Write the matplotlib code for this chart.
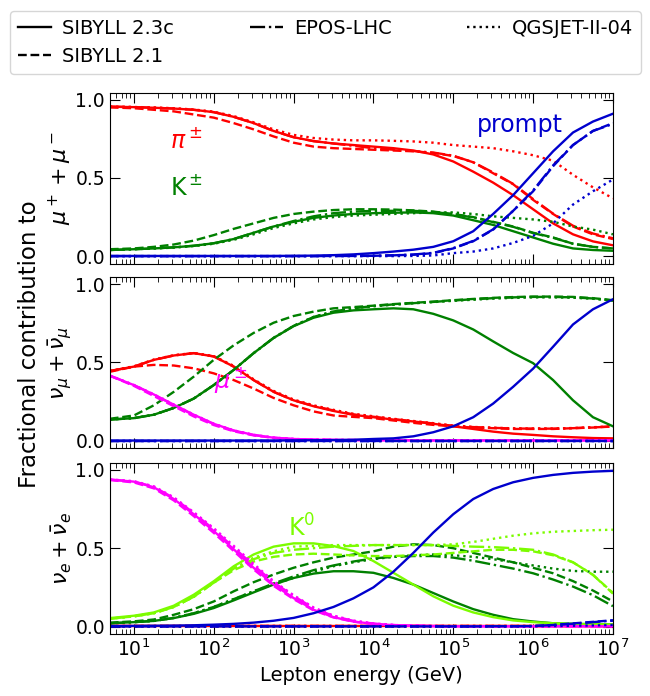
import matplotlib
matplotlib.use("Agg")
import matplotlib.pyplot as plt
from matplotlib.lines import Line2D

# ---------------- data ----------------
energy = [5, 10, 17.8, 31.6, 56.2, 100, 178, 316, 562, 1000, 1780, 3160, 5620,
          1e4, 1.78e4, 3.16e4, 5.62e4, 1e5, 1.78e5, 3.16e5, 5.62e5, 1e6,
          1.78e6, 3.16e6, 5.62e6, 1e7]
x_ticks = [1e1, 1e2, 1e3, 1e4, 1e5, 1e6, 1e7]

models = ["SIBYLL 2.3c", "SIBYLL 2.1", "EPOS-LHC", "QGSJET-II-04"]
model_styles = ["-", "--", "-.", ":"]

# --- mu+ + mu- ---
mu_pi_sib23 = [0.955, 0.952, 0.948, 0.943, 0.935, 0.92, 0.89, 0.85, 0.80, 0.76, 0.735, 0.72, 0.71,
               0.70, 0.69, 0.675, 0.65, 0.605, 0.54, 0.47, 0.39, 0.30, 0.21, 0.14, 0.095, 0.07]
mu_pi_sib21 = [0.95, 0.945, 0.935, 0.925, 0.905, 0.885, 0.85, 0.81, 0.765, 0.725, 0.70, 0.69, 0.685,
               0.68, 0.675, 0.67, 0.66, 0.64, 0.60, 0.53, 0.46, 0.36, 0.27, 0.19, 0.14, 0.11]
mu_pi_epos = [0.955, 0.952, 0.948, 0.943, 0.935, 0.92, 0.89, 0.85, 0.80, 0.76, 0.735, 0.72, 0.705,
              0.69, 0.68, 0.672, 0.662, 0.642, 0.60, 0.535, 0.462, 0.365, 0.272, 0.195, 0.145, 0.115]
mu_pi_qgs = [0.956, 0.953, 0.95, 0.945, 0.937, 0.923, 0.895, 0.855, 0.81, 0.775, 0.755, 0.745, 0.74,
             0.74, 0.737, 0.733, 0.725, 0.71, 0.70, 0.69, 0.67, 0.645, 0.61, 0.52, 0.44, 0.37]

mu_k_sib23 = [0.04, 0.045, 0.05, 0.057, 0.067, 0.083, 0.11, 0.15, 0.19, 0.22, 0.245, 0.26, 0.27,
              0.275, 0.278, 0.28, 0.275, 0.26, 0.23, 0.20, 0.16, 0.12, 0.08, 0.05, 0.04, 0.035]
mu_k_sib21 = [0.045, 0.05, 0.06, 0.075, 0.10, 0.135, 0.175, 0.21, 0.245, 0.27, 0.285, 0.295, 0.30,
              0.30, 0.298, 0.293, 0.285, 0.27, 0.25, 0.22, 0.19, 0.15, 0.12, 0.08, 0.06, 0.05]
mu_k_epos = [0.04, 0.045, 0.05, 0.057, 0.067, 0.083, 0.11, 0.15, 0.19, 0.225, 0.255, 0.275, 0.285,
             0.29, 0.29, 0.29, 0.283, 0.268, 0.248, 0.218, 0.188, 0.148, 0.118, 0.08, 0.06, 0.05]
mu_k_qgs = [0.04, 0.045, 0.05, 0.055, 0.065, 0.08, 0.105, 0.14, 0.18, 0.21, 0.235, 0.25, 0.26,
            0.265, 0.27, 0.275, 0.28, 0.28, 0.27, 0.255, 0.245, 0.235, 0.22, 0.19, 0.17, 0.14]

mu_pr_sib23 = [0.002, 0.002, 0.002, 0.002, 0.002, 0.002, 0.002, 0.002, 0.002, 0.003, 0.004, 0.007, 0.012,
               0.02, 0.03, 0.042, 0.06, 0.096, 0.16, 0.27, 0.39, 0.53, 0.67, 0.79, 0.86, 0.91]
mu_pr_sib21 = [0.001, 0.001, 0.001, 0.001, 0.001, 0.001, 0.001, 0.001, 0.001, 0.001, 0.001, 0.002, 0.002,
               0.003, 0.006, 0.01, 0.02, 0.05, 0.096, 0.17, 0.29, 0.415, 0.575, 0.71, 0.80, 0.85]
mu_pr_epos = [0.001, 0.001, 0.001, 0.001, 0.001, 0.001, 0.001, 0.001, 0.001, 0.001, 0.001, 0.002, 0.002,
              0.003, 0.006, 0.011, 0.022, 0.052, 0.098, 0.172, 0.29, 0.42, 0.58, 0.71, 0.80, 0.845]
mu_pr_qgs = [0.001, 0.001, 0.001, 0.001, 0.001, 0.001, 0.001, 0.001, 0.001, 0.001, 0.001, 0.001, 0.001,
             0.001, 0.001, 0.002, 0.005, 0.02, 0.03, 0.05, 0.085, 0.13, 0.21, 0.33, 0.415, 0.49]

# --- nu_mu + anti nu_mu ---
nm_pi_sib23 = [0.445, 0.473, 0.516, 0.544, 0.559, 0.538, 0.473, 0.387, 0.312, 0.258, 0.22, 0.19, 0.165,
               0.15, 0.135, 0.123, 0.108, 0.092, 0.075, 0.058, 0.045, 0.037, 0.028, 0.022, 0.017, 0.015]
nm_pi_sib21 = [0.44, 0.473, 0.484, 0.48, 0.462, 0.43, 0.387, 0.333, 0.273, 0.226, 0.187, 0.161, 0.152,
               0.144, 0.129, 0.114, 0.101, 0.092, 0.084, 0.08, 0.075, 0.075, 0.075, 0.08, 0.084, 0.092]
nm_pi_epos = [0.445, 0.473, 0.516, 0.544, 0.559, 0.538, 0.473, 0.387, 0.312, 0.258, 0.222, 0.193, 0.168,
              0.153, 0.138, 0.124, 0.11, 0.095, 0.087, 0.082, 0.078, 0.077, 0.077, 0.08, 0.085, 0.09]
nm_pi_qgs = [0.445, 0.475, 0.518, 0.546, 0.56, 0.54, 0.478, 0.392, 0.318, 0.263, 0.226, 0.197, 0.172,
             0.156, 0.14, 0.126, 0.112, 0.097, 0.088, 0.083, 0.079, 0.078, 0.078, 0.081, 0.086, 0.092]

nm_k_sib23 = [0.135, 0.144, 0.166, 0.209, 0.269, 0.355, 0.452, 0.559, 0.656, 0.731, 0.785, 0.817, 0.832,
              0.839, 0.845, 0.839, 0.81, 0.768, 0.71, 0.634, 0.56, 0.495, 0.387, 0.258, 0.15, 0.092]
nm_k_sib21 = [0.14, 0.161, 0.226, 0.312, 0.409, 0.516, 0.609, 0.688, 0.753, 0.796, 0.824, 0.845, 0.853,
              0.862, 0.872, 0.88, 0.888, 0.897, 0.905, 0.912, 0.917, 0.92, 0.92, 0.918, 0.91, 0.897]
nm_k_epos = [0.135, 0.144, 0.166, 0.209, 0.269, 0.355, 0.452, 0.559, 0.656, 0.733, 0.79, 0.825, 0.845,
             0.86, 0.87, 0.878, 0.886, 0.895, 0.903, 0.91, 0.915, 0.918, 0.918, 0.915, 0.908, 0.895]
nm_k_qgs = [0.135, 0.144, 0.166, 0.209, 0.269, 0.355, 0.452, 0.559, 0.656, 0.733, 0.79, 0.825, 0.845,
            0.858, 0.868, 0.877, 0.885, 0.893, 0.9, 0.907, 0.912, 0.915, 0.915, 0.913, 0.906, 0.895]

nm_mu_sib23 = [0.415, 0.355, 0.295, 0.23, 0.166, 0.108, 0.065, 0.037, 0.019, 0.011, 0.007, 0.005, 0.004,
               0.003, 0.003, 0.002, 0.002, 0.002, 0.002, 0.002, 0.002, 0.002, 0.002, 0.002, 0.002, 0.002]
nm_mu_sib21 = [0.415, 0.35, 0.285, 0.22, 0.155, 0.10, 0.06, 0.034, 0.018, 0.01, 0.007, 0.005, 0.004,
               0.003, 0.003, 0.002, 0.002, 0.002, 0.002, 0.002, 0.002, 0.002, 0.002, 0.002, 0.002, 0.002]
nm_mu_epos = [0.415, 0.355, 0.293, 0.228, 0.163, 0.106, 0.064, 0.036, 0.019, 0.011, 0.007, 0.005, 0.004,
              0.003, 0.003, 0.002, 0.002, 0.002, 0.002, 0.002, 0.002, 0.002, 0.002, 0.002, 0.002, 0.002]
nm_mu_qgs = [0.416, 0.356, 0.296, 0.231, 0.167, 0.109, 0.066, 0.038, 0.02, 0.011, 0.007, 0.005, 0.004,
             0.003, 0.003, 0.002, 0.002, 0.002, 0.002, 0.002, 0.002, 0.002, 0.002, 0.002, 0.002, 0.002]

nm_pr_sib23 = [0.001, 0.001, 0.001, 0.001, 0.001, 0.001, 0.001, 0.001, 0.001, 0.002, 0.003, 0.004, 0.006,
               0.011, 0.015, 0.028, 0.054, 0.092, 0.15, 0.237, 0.344, 0.46, 0.60, 0.742, 0.839, 0.903]
nm_pr_sib21 = [0.001, 0.001, 0.001, 0.001, 0.001, 0.001, 0.001, 0.001, 0.001, 0.001, 0.001, 0.001, 0.001,
               0.001, 0.001, 0.001, 0.001, 0.001, 0.001, 0.001, 0.001, 0.001, 0.001, 0.001, 0.001, 0.001]
nm_pr_epos = [0.001, 0.001, 0.001, 0.001, 0.001, 0.001, 0.001, 0.001, 0.001, 0.001, 0.001, 0.001, 0.001,
              0.001, 0.001, 0.001, 0.001, 0.001, 0.001, 0.001, 0.001, 0.001, 0.001, 0.001, 0.001, 0.001]
nm_pr_qgs = [0.001, 0.001, 0.001, 0.001, 0.001, 0.001, 0.001, 0.001, 0.001, 0.001, 0.001, 0.001, 0.001,
             0.001, 0.001, 0.001, 0.001, 0.001, 0.001, 0.001, 0.001, 0.001, 0.001, 0.001, 0.001, 0.001]

# --- nu_e + anti nu_e ---
ne_pi_sib23 = [0.004, 0.004, 0.004, 0.004, 0.004, 0.004, 0.004, 0.004, 0.004, 0.004, 0.004, 0.004, 0.004,
               0.004, 0.004, 0.004, 0.004, 0.004, 0.004, 0.004, 0.004, 0.004, 0.004, 0.004, 0.004, 0.004]
ne_pi_sib21 = [0.004, 0.004, 0.004, 0.004, 0.004, 0.004, 0.004, 0.004, 0.004, 0.004, 0.004, 0.004, 0.004,
               0.004, 0.004, 0.004, 0.004, 0.004, 0.004, 0.004, 0.004, 0.004, 0.004, 0.004, 0.004, 0.004]
ne_pi_epos = [0.004, 0.004, 0.004, 0.004, 0.004, 0.004, 0.004, 0.004, 0.004, 0.004, 0.004, 0.004, 0.004,
              0.004, 0.004, 0.004, 0.004, 0.004, 0.004, 0.004, 0.004, 0.004, 0.004, 0.004, 0.004, 0.004]
ne_pi_qgs = [0.004, 0.004, 0.004, 0.004, 0.004, 0.004, 0.004, 0.004, 0.004, 0.004, 0.004, 0.004, 0.004,
             0.004, 0.004, 0.004, 0.004, 0.004, 0.004, 0.004, 0.004, 0.004, 0.004, 0.004, 0.004, 0.004]

ne_k_sib23 = [0.021, 0.028, 0.036, 0.054, 0.081, 0.118, 0.167, 0.218, 0.268, 0.31, 0.338, 0.353, 0.353,
              0.343, 0.31, 0.268, 0.214, 0.16, 0.111, 0.075, 0.047, 0.032, 0.021, 0.017, 0.015, 0.013]
ne_k_sib21 = [0.025, 0.033, 0.045, 0.075, 0.111, 0.16, 0.225, 0.283, 0.332, 0.375, 0.41, 0.44, 0.46,
              0.48, 0.51, 0.525, 0.52, 0.50, 0.47, 0.44, 0.41, 0.375, 0.34, 0.29, 0.23, 0.16]
ne_k_epos = [0.021, 0.028, 0.036, 0.055, 0.085, 0.125, 0.175, 0.225, 0.275, 0.32, 0.36, 0.39, 0.415,
             0.435, 0.445, 0.45, 0.45, 0.44, 0.42, 0.395, 0.37, 0.34, 0.30, 0.255, 0.20, 0.13]
ne_k_qgs = [0.021, 0.028, 0.036, 0.055, 0.085, 0.125, 0.175, 0.225, 0.27, 0.31, 0.35, 0.385, 0.41,
            0.43, 0.445, 0.455, 0.46, 0.455, 0.445, 0.43, 0.41, 0.39, 0.37, 0.355, 0.35, 0.35]

ne_k0_sib23 = [0.054, 0.069, 0.09, 0.133, 0.203, 0.289, 0.385, 0.46, 0.51, 0.531, 0.531, 0.514, 0.482,
               0.418, 0.343, 0.268, 0.193, 0.133, 0.09, 0.06, 0.039, 0.028, 0.021, 0.017, 0.015, 0.013]
ne_k0_sib21 = [0.05, 0.065, 0.085, 0.125, 0.19, 0.28, 0.36, 0.415, 0.445, 0.46, 0.465, 0.46, 0.454,
               0.45, 0.45, 0.455, 0.46, 0.47, 0.48, 0.49, 0.49, 0.48, 0.455, 0.41, 0.33, 0.215]
ne_k0_epos = [0.05, 0.065, 0.085, 0.125, 0.19, 0.28, 0.37, 0.43, 0.47, 0.49, 0.50, 0.51, 0.515,
              0.52, 0.52, 0.52, 0.52, 0.515, 0.51, 0.507, 0.50, 0.49, 0.46, 0.41, 0.33, 0.21]
ne_k0_qgs = [0.05, 0.065, 0.085, 0.125, 0.19, 0.28, 0.37, 0.44, 0.48, 0.51, 0.515, 0.52, 0.52,
             0.52, 0.52, 0.52, 0.52, 0.525, 0.54, 0.56, 0.58, 0.595, 0.605, 0.61, 0.615, 0.618]

ne_mu_sib23 = [0.938, 0.925, 0.889, 0.814, 0.717, 0.61, 0.493, 0.375, 0.268, 0.182, 0.107, 0.06, 0.032,
               0.017, 0.009, 0.005, 0.003, 0.002, 0.002, 0.002, 0.002, 0.002, 0.002, 0.002, 0.002, 0.002]
ne_mu_sib21 = [0.935, 0.92, 0.882, 0.805, 0.705, 0.598, 0.482, 0.365, 0.26, 0.175, 0.103, 0.058, 0.031,
               0.016, 0.009, 0.005, 0.003, 0.002, 0.002, 0.002, 0.002, 0.002, 0.002, 0.002, 0.002, 0.002]
ne_mu_epos = [0.938, 0.926, 0.892, 0.82, 0.725, 0.62, 0.505, 0.39, 0.283, 0.195, 0.118, 0.067, 0.036,
              0.019, 0.01, 0.005, 0.003, 0.002, 0.002, 0.002, 0.002, 0.002, 0.002, 0.002, 0.002, 0.002]
ne_mu_qgs = [0.94, 0.928, 0.895, 0.825, 0.73, 0.628, 0.515, 0.40, 0.29, 0.20, 0.122, 0.07, 0.038,
             0.02, 0.01, 0.005, 0.003, 0.002, 0.002, 0.002, 0.002, 0.002, 0.002, 0.002, 0.002, 0.002]

ne_pr_sib23 = [0.003, 0.004, 0.005, 0.006, 0.008, 0.012, 0.017, 0.025, 0.037, 0.055, 0.085, 0.125, 0.18,
               0.25, 0.35, 0.47, 0.60, 0.717, 0.814, 0.878, 0.921, 0.949, 0.968, 0.981, 0.989, 0.994]
ne_pr_sib21 = [0.001, 0.001, 0.001, 0.001, 0.001, 0.001, 0.001, 0.001, 0.001, 0.001, 0.001, 0.001, 0.001,
               0.001, 0.001, 0.001, 0.001, 0.001, 0.001, 0.002, 0.002, 0.003, 0.01, 0.02, 0.03, 0.04]
ne_pr_epos = [0.001, 0.001, 0.001, 0.001, 0.001, 0.001, 0.001, 0.001, 0.001, 0.001, 0.001, 0.001, 0.001,
              0.001, 0.001, 0.001, 0.001, 0.001, 0.001, 0.002, 0.002, 0.003, 0.01, 0.018, 0.028, 0.038]
ne_pr_qgs = [0.001, 0.001, 0.001, 0.001, 0.001, 0.001, 0.001, 0.001, 0.001, 0.001, 0.001, 0.001, 0.001,
             0.001, 0.001, 0.001, 0.001, 0.001, 0.001, 0.001, 0.001, 0.002, 0.003, 0.005, 0.007, 0.01]

panel_ylabels = [r"$\mu^+ + \mu^-$", r"$\nu_\mu + \bar{\nu}_\mu$", r"$\nu_e + \bar{\nu}_e$"]

# colours per component
c_pi = "#ff0000"
c_k = "#008000"
c_k0 = "#7cfc00"
c_mu = "#ff00ff"
c_pr = "#0000cd"

panels = [
    [(c_pi, [mu_pi_sib23, mu_pi_sib21, mu_pi_epos, mu_pi_qgs]),
     (c_k, [mu_k_sib23, mu_k_sib21, mu_k_epos, mu_k_qgs]),
     (c_pr, [mu_pr_sib23, mu_pr_sib21, mu_pr_epos, mu_pr_qgs])],
    [(c_pi, [nm_pi_sib23, nm_pi_sib21, nm_pi_epos, nm_pi_qgs]),
     (c_k, [nm_k_sib23, nm_k_sib21, nm_k_epos, nm_k_qgs]),
     (c_mu, [nm_mu_sib23, nm_mu_sib21, nm_mu_epos, nm_mu_qgs]),
     (c_pr, [nm_pr_sib23, nm_pr_sib21, nm_pr_epos, nm_pr_qgs])],
    [(c_pi, [ne_pi_sib23, ne_pi_sib21, ne_pi_epos, ne_pi_qgs]),
     (c_k, [ne_k_sib23, ne_k_sib21, ne_k_epos, ne_k_qgs]),
     (c_k0, [ne_k0_sib23, ne_k0_sib21, ne_k0_epos, ne_k0_qgs]),
     (c_mu, [ne_mu_sib23, ne_mu_sib21, ne_mu_epos, ne_mu_qgs]),
     (c_pr, [ne_pr_sib23, ne_pr_sib21, ne_pr_epos, ne_pr_qgs])],
]

# ---------------- figure ----------------
fig = plt.figure(figsize=(6.5, 6.96), dpi=100)
bottoms = [0.621, 0.356, 0.089]
axes = []
for i in range(3):
    ax = fig.add_axes([0.169, bottoms[i], 0.774, 0.246])
    axes.append(ax)
    for color, series in panels[i]:
        for vals, ls in zip(series, model_styles):
            ax.plot(energy, vals, color=color, ls=ls, lw=1.7)
    ax.set_xscale("log")
    ax.set_xticks(x_ticks)
    ax.set_xlim(5, 1e7)
    ax.set_ylim(-0.048, 1.045)
    ax.set_yticks([0.0, 0.5, 1.0])
    ax.set_yticklabels(["0.0", "0.5", "1.0"])
    ax.tick_params(which="both", direction="in", top=True, right=True, labelsize=13.5)
    ax.tick_params(which="major", length=7)
    ax.tick_params(which="minor", length=3.5)
    ax.set_ylabel(panel_ylabels[i], fontsize=16, labelpad=1)
    if i < 2:
        ax.tick_params(labelbottom=False)

axes[2].set_xlabel("Lepton energy (GeV)", fontsize=14)

# annotations
axes[0].text(28, 0.74, r"$\pi^\pm$", color=c_pi, fontsize=17, va="center", ha="left")
axes[0].text(28, 0.44, r"K$^\pm$", color=c_k, fontsize=17, va="center", ha="left")
axes[0].text(2.0e5, 0.84, "prompt", color=c_pr, fontsize=17, va="center", ha="left")
axes[1].text(100, 0.39, r"$\mu^\pm$", color=c_mu, fontsize=17, va="center", ha="left")
axes[2].text(850, 0.63, r"K$^0$", color=c_k0, fontsize=17, va="center", ha="left")

fig.text(0.045, 0.505, "Fractional contribution to", rotation=90, va="center",
         ha="center", fontsize=16.5)

handles = [Line2D([], [], color="black", ls=ls, lw=1.7) for ls in model_styles]
fig.legend(handles, models, loc="lower left",
           bbox_to_anchor=(10 / 650, 1 - 74 / 696, 631 / 650, 66 / 696),
           mode="expand", ncol=3, fontsize=14, borderaxespad=0.0,
           handlelength=1.7, handletextpad=0.6)

fig.savefig("out.png", dpi=100)
